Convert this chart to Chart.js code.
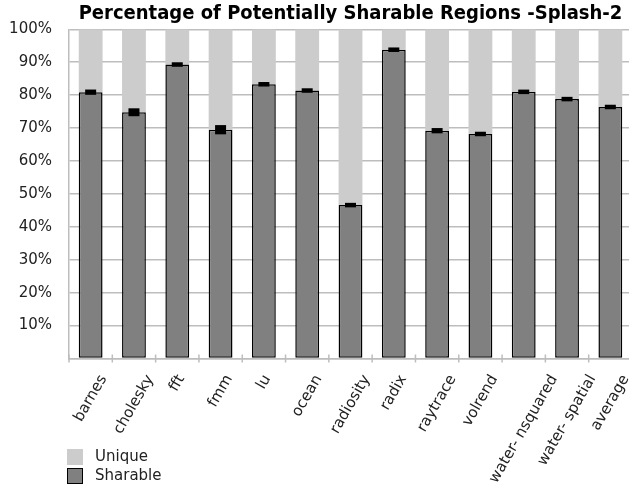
<!DOCTYPE html>
<html>
<head>
<meta charset="utf-8">
<script src="https://cdn.jsdelivr.net/npm/chart.js@4/dist/chart.umd.min.js"></script>
<style>
html,body{margin:0;padding:0;background:#fff;overflow:hidden;width:629px;height:486px;}
#wrap{position:relative;width:634px;height:486px;}
canvas{position:absolute;left:0;top:0;}
.lg{position:absolute;font-family:"DejaVu Sans";font-size:15px;color:#222;line-height:1;}
.sw{position:absolute;width:16px;height:16px;box-sizing:border-box;}
</style>
</head>
<body>
<div id="wrap">
<canvas id="c" width="634" height="486"></canvas>
<div class="sw" style="left:67px;top:449px;background:#cccccc;"></div>
<div class="lg" style="left:95px;top:449px;">Unique</div>
<div class="sw" style="left:67px;top:468px;background:#808080;border:1.5px solid #000;"></div>
<div class="lg" style="left:95px;top:468px;">Sharable</div>
</div>
<script>
const categories = ["barnes","cholesky","fft","fmm","lu","ocean","radiosity","radix","raytrace","volrend","water- nsquared","water- spatial","average"];
const sharable = [80.9, 74.8, 89.3, 69.5, 83.3, 81.4, 46.6, 93.8, 69.2, 68.2, 81.0, 78.8, 76.4];
const sharableErr = [0.8, 1.2, 0.6, 1.4, 0.6, 0.6, 0.5, 0.5, 0.8, 0.4, 0.5, 0.6, 0.6];
const unique = sharable.map(v => 100 - v);
const yTicks = [10,20,30,40,50,60,70,80,90,100];
const titleText = 'Percentage of Potentially Sharable Regions -Splash-2';

const LABEL_ANGLE = 60 * Math.PI / 180;

const errPlugin = {
  id: 'errbars',
  afterDatasetsDraw(chart) {
    const ctx = chart.ctx;
    const meta = chart.getDatasetMeta(0);
    const ys = chart.scales.y;
    ctx.save();
    ctx.fillStyle = '#000';
    meta.data.forEach((bar, i) => {
      const top = ys.getPixelForValue(sharable[i] + sharableErr[i]);
      const bot = ys.getPixelForValue(sharable[i] - sharableErr[i]);
      let h = bot - top;
      let y0 = top;
      if (h < 4.5) { y0 = (top + bot) / 2 - 2.25; h = 4.5; }
      ctx.fillRect(bar.x - 5.5, y0, 11, h);
    });
    const xs = chart.scales.x;
    const base = ys.getPixelForValue(0);
    ctx.strokeStyle = '#bdbdbd';
    ctx.lineWidth = 1.5;
    for (let i = 0; i <= categories.length; i++) {
      const x = xs.left + (xs.right - xs.left) * i / categories.length;
      ctx.beginPath();
      ctx.moveTo(x, base - 4);
      ctx.lineTo(x, base + 4);
      ctx.stroke();
    }
    ctx.restore();
  },
  afterDraw(chart) {
    const ctx = chart.ctx;
    const a = chart.chartArea;
    const xs = chart.scales.x;
    ctx.save();
    // category labels, bounding box centred under each tick
    ctx.font = '15px "DejaVu Sans"';
    ctx.fillStyle = '#222';
    ctx.textAlign = 'center';
    ctx.textBaseline = 'middle';
    const s = Math.sin(LABEL_ANGLE), c = Math.cos(LABEL_ANGLE);
    const h = 11;
    categories.forEach((lab, i) => {
      const L = ctx.measureText(lab).width;
      const x = xs.getPixelForTick(i);
      const y = xs.top + 15 + (L * s + h * c) / 2;
      ctx.save();
      ctx.translate(x, y);
      ctx.rotate(-LABEL_ANGLE);
      ctx.fillText(lab, 0, 0);
      ctx.restore();
    });
    // title
    ctx.font = 'bold 20px "DejaVu Sans Condensed"';
    ctx.fillStyle = '#000';
    ctx.textAlign = 'center';
    ctx.textBaseline = 'middle';
    ctx.fillText(titleText, (a.left + a.right) / 2, 14);
    ctx.restore();
  }
};

new Chart(document.getElementById('c'), {
  type: 'bar',
  data: {
    labels: categories,
    datasets: [
      {label: 'Sharable', data: sharable, backgroundColor: '#808080', borderColor: '#000', borderWidth: 1.5, borderSkipped: false, stack: 's', barPercentage: 0.55, categoryPercentage: 1.0},
      {label: 'Unique', data: unique, backgroundColor: '#cccccc', borderWidth: 0, stack: 's', barPercentage: 0.55, categoryPercentage: 1.0}
    ]
  },
  options: {
    responsive: false,
    animation: false,
    devicePixelRatio: 1,
    layout: {padding: {left: 0, right: 2, top: 29.3, bottom: 0}},
    plugins: {
      legend: {display: false},
      tooltip: {enabled: false},
      title: {display: false}
    },
    scales: {
      x: {
        stacked: true,
        grid: {display: false, offset: true},
        border: {display: true, color: '#bdbdbd', width: 1.5},
        ticks: {display: false, autoSkip: false},
        afterFit(s) { s.height = 127.5; }
      },
      y: {
        stacked: true,
        min: 0, max: 100,
        afterBuildTicks(s) { s.ticks = [0].concat(yTicks).map(v => ({value: v})); },
        grid: {color: '#bdbdbd', lineWidth: 1.5, drawTicks: false},
        border: {display: true, color: '#bdbdbd', width: 1.5},
        ticks: {
          font: {family: 'DejaVu Sans', size: 15},
          color: '#222',
          padding: 17,
          callback: v => v === 0 ? '' : v + '%'
        },
        afterFit(s) { s.width = 69; }
      }
    }
  },
  plugins: [errPlugin]
});
</script>
</body>
</html>
